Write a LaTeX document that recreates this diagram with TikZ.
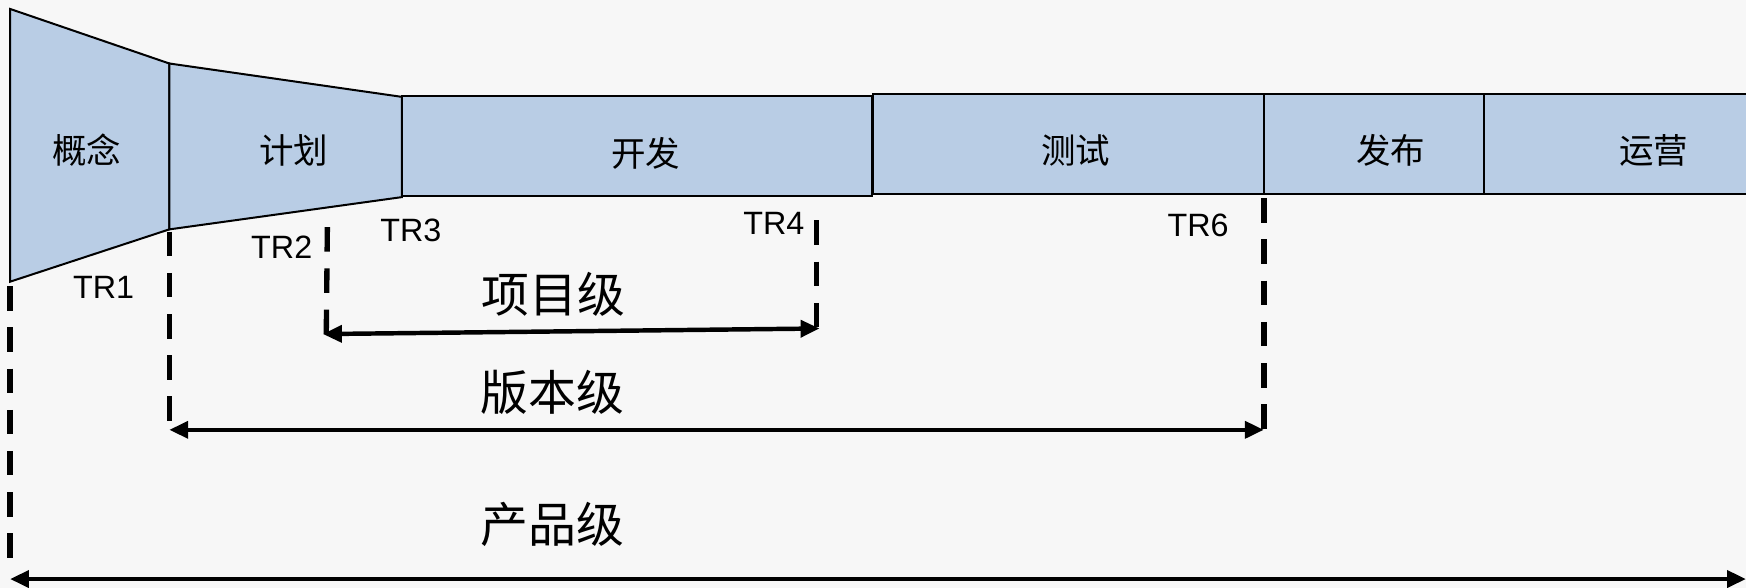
\documentclass[tikz,border=0pt]{standalone}
\usepackage{fontspec}
\setmainfont{Liberation Sans}
\newfontfamily\cjk{Noto Sans CJK SC}
\usetikzlibrary{arrows.meta}
\definecolor{bg}{HTML}{F7F7F7}
\definecolor{boxfill}{HTML}{B9CDE5}
\tikzset{
  phase/.style={fill=boxfill, draw=black, line width=1.8pt, line join=miter},
  phaselabel/.style={font=\cjk\fontsize{31}{31}\selectfont, inner sep=0pt},
  trlabel/.style={font=\fontsize{29}{29}\selectfont, inner sep=0pt},
  levellabel/.style={font=\cjk\fontsize{43}{43}\selectfont, inner sep=0pt},
  dashline/.style={line width=4.8pt, dash pattern=on 22pt off 15pt},
  span/.style={line width=4pt, {Triangle[length=17pt,width=15pt]}-{Triangle[length=17pt,width=15pt]}}
}
\begin{document}
\begin{tikzpicture}[x=1pt,y=-1pt]
\useasboundingbox (0,0) rectangle (1568,528);
\fill[bg] (0,0) rectangle (1568,528);
% phase shapes
\coordinate (gTL) at (9,8);
\coordinate (gBL) at (9,253);
\coordinate (gTR) at (152,57);
\coordinate (gBR) at (152,206);
\coordinate (jTR) at (361,87);
\coordinate (jBR) at (361,177);
\draw[phase] (gTL) -- (gTR) -- (gBR) -- (gBL) -- cycle;
\draw[phase] (gTR) -- (jTR) -- (jBR) -- (gBR) -- cycle;
\draw[phase] (361,86) rectangle (783,176);
\draw[phase] (784,84) rectangle (1135,174);
\draw[phase] (1135,84) rectangle (1333,174);
\draw[phase] (1333,84) rectangle (1572,174);
\node[phaselabel] (gainian) at (78,135) {概念};
\node[phaselabel] (jihua) at (264,135) {计划};
\node[phaselabel] (kaifa) at (580,138) {开发};
\node[phaselabel] (ceshi) at (966,135) {测试};
\node[phaselabel] (fabu) at (1249,135) {发布};
\node[phaselabel] (yunying) at (1485,135) {运营};
% TR labels
\node[trlabel] (tr1) at (93,258) {TR1};
\node[trlabel] (tr2) at (253,222) {TR2};
\node[trlabel] (tr3) at (369,207) {TR3};
\node[trlabel] (tr4) at (695,201) {TR4};
\node[trlabel] (tr6) at (1076,202) {TR6};
% dashed markers
\coordinate (d1a) at (9,257);
\coordinate (d1b) at (9,501);
\coordinate (d2a) at (152,208);
\coordinate (d2b) at (152,378);
\coordinate (d3a) at (294,204);
\coordinate (d3b) at (293,300);
\coordinate (d4a) at (733,198);
\coordinate (d4b) at (733,294);
\coordinate (d6a) at (1135,178);
\coordinate (d6b) at (1135,385);
\draw[dashline] (d1a) -- (d1b);
\draw[dashline] (d2a) -- (d2b);
\draw[dashline] (d3a) -- (d3b);
\draw[dashline] (d4a) -- (d4b);
\draw[dashline] (d6a) -- (d6b);
% spans
\coordinate (p1) at (290,300);
\coordinate (p2) at (736,295);
\coordinate (v1) at (152,386);
\coordinate (v2) at (1135,386);
\coordinate (c1) at (9,520);
\coordinate (c2) at (1568,520);
\draw[span] (p1) -- (p2);
\draw[span] (v1) -- (v2);
\draw[span] (c1) -- (c2);
\node[levellabel] (xiangmu) at (497,264) {项目级};
\node[levellabel] (banben) at (496,352) {版本级};
\node[levellabel] (chanpin) at (496,471) {产品级};
\end{tikzpicture}
\end{document}
